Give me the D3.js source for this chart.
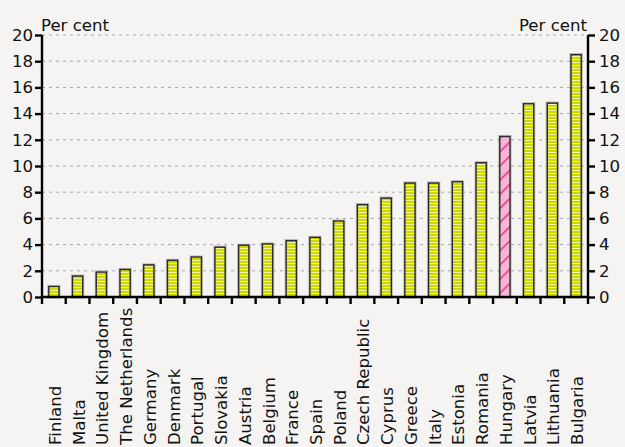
<!DOCTYPE html>
<html>
<head>
<meta charset="utf-8">
<script src="https://cdn.jsdelivr.net/npm/d3@7"></script>
<style>
  html, body { margin: 0; padding: 0; background: #f5f4f2; }
  svg { display: block; }
  text { font-family: "DejaVu Sans", Verdana, sans-serif; fill: #111; }
</style>
</head>
<body>
<svg id="chart" width="625" height="447"></svg>
<script>
// Countries, sorted by value
const countries = ["Finland", "Malta", "United Kingdom", "The Netherlands", "Germany", "Denmark",
  "Portugal", "Slovakia", "Austria", "Belgium", "France", "Spain", "Poland", "Czech Republic",
  "Cyprus", "Greece", "Italy", "Estonia", "Romania", "Hungary", "Latvia", "Lithuania", "Bulgaria"];
// Per cent
const values = [0.8, 1.6, 1.9, 2.1, 2.45, 2.8, 3.05, 3.8, 3.95, 4.05, 4.3, 4.55, 5.8, 7.05,
  7.55, 8.7, 8.7, 8.8, 10.25, 12.25, 14.75, 14.8, 18.5];
// Highlighted country
const highlight = ["Hungary"];
const yTicks = [0, 2, 4, 6, 8, 10, 12, 14, 16, 18, 20];
const unitLabel = "Per cent";

const svg = d3.select("#chart");
const plotLeft = 42, plotRight = 588, plotTop = 35, plotBottom = 297;
const fontSize = 16.6;

const x = d3.scaleBand().domain(countries).range([plotLeft, plotRight]).paddingInner(0.57).paddingOuter(0.285);
const xEdges = d3.scaleBand().domain(countries).range([plotLeft, plotRight]);
const y = d3.scaleLinear().domain([0, 20]).range([plotBottom, plotTop]);

// Fill patterns
const defs = svg.append("defs");
const stripes = defs.append("pattern").attr("id", "yellowStripes")
  .attr("patternUnits", "userSpaceOnUse").attr("width", 6).attr("height", 3);
stripes.append("rect").attr("width", 6).attr("height", 3).attr("fill", "#eef2a2");
stripes.append("rect").attr("width", 6).attr("height", 2).attr("fill", "#cdd800");

const hatch = defs.append("pattern").attr("id", "pinkHatch")
  .attr("patternUnits", "userSpaceOnUse").attr("width", 10).attr("height", 10)
  .attr("patternTransform", "rotate(-45)");
hatch.append("rect").attr("width", 10).attr("height", 10).attr("fill", "#f8b6d6");
hatch.append("rect").attr("width", 10).attr("height", 1.6).attr("fill", "#e8378d");

// Grid lines
svg.append("g").selectAll("line").data(yTicks.filter(d => d > 0)).join("line")
  .attr("x1", plotLeft).attr("x2", plotRight)
  .attr("y1", d => y(d)).attr("y2", d => y(d))
  .attr("stroke", "#a8a8a8").attr("stroke-width", 1).attr("stroke-dasharray", "3,4");

// Bars
const bars = svg.append("g");
bars.selectAll("rect.halo").data(countries).join("rect").attr("class", "halo")
  .attr("x", d => x(d)).attr("width", x.bandwidth())
  .attr("y", (d, i) => y(values[i])).attr("height", (d, i) => y(0) - y(values[i]))
  .attr("fill", "none").attr("stroke", "#9a9a9a").attr("stroke-opacity", 0.6).attr("stroke-width", 3.2);
bars.selectAll("rect.bar").data(countries).join("rect").attr("class", "bar")
  .attr("x", d => x(d)).attr("width", x.bandwidth())
  .attr("y", (d, i) => y(values[i])).attr("height", (d, i) => y(0) - y(values[i]))
  .attr("fill", d => highlight.includes(d) ? "url(#pinkHatch)" : "url(#yellowStripes)")
  .attr("stroke", "#2a2a2a").attr("stroke-width", 1.4);

// Left axis
const yLeft = svg.append("g").attr("transform", `translate(${plotLeft},0)`)
  .call(d3.axisLeft(y).tickValues(yTicks).tickSize(7).tickPadding(2));
// Right axis
const yRight = svg.append("g").attr("transform", `translate(${plotRight},0)`)
  .call(d3.axisRight(y).tickValues(yTicks).tickSize(7).tickPadding(4));
[yLeft, yRight].forEach(g => {
  g.select(".domain").attr("stroke", "#000").attr("stroke-width", 2.4)
    .attr("d", `M0,${plotTop}V${plotBottom}`);
  g.selectAll(".tick line").attr("stroke", "#000").attr("stroke-width", 2.4);
  g.selectAll(".tick text").attr("font-size", fontSize)
    .attr("font-family", "DejaVu Sans, Verdana, sans-serif").attr("fill", "#111");
});

// X axis with ticks at band edges
const xg = svg.append("g");
xg.append("line").attr("x1", plotLeft - 1).attr("x2", plotRight + 1)
  .attr("y1", plotBottom).attr("y2", plotBottom)
  .attr("stroke", "#000").attr("stroke-width", 2.6);
const edges = countries.map(d => xEdges(d)).concat([plotRight]);
xg.selectAll("line.tick").data(edges).join("line").attr("class", "tick")
  .attr("x1", d => d).attr("x2", d => d).attr("y1", plotBottom).attr("y2", plotBottom + 7)
  .attr("stroke", "#000").attr("stroke-width", 2.4);

// Country labels
xg.selectAll("text").data(countries).join("text")
  .attr("transform", d => `translate(${xEdges(d) + xEdges.bandwidth() / 2 + 1},445) rotate(-90)`)
  .attr("dy", "0.36em").attr("text-anchor", "start").attr("font-size", fontSize)
  .text(d => d);

// Unit labels
svg.append("text").attr("x", 41).attr("y", 31).attr("font-size", fontSize).text(unitLabel);
svg.append("text").attr("x", 587).attr("y", 31).attr("font-size", fontSize)
  .attr("text-anchor", "end").text(unitLabel);
</script>
</body>
</html>
